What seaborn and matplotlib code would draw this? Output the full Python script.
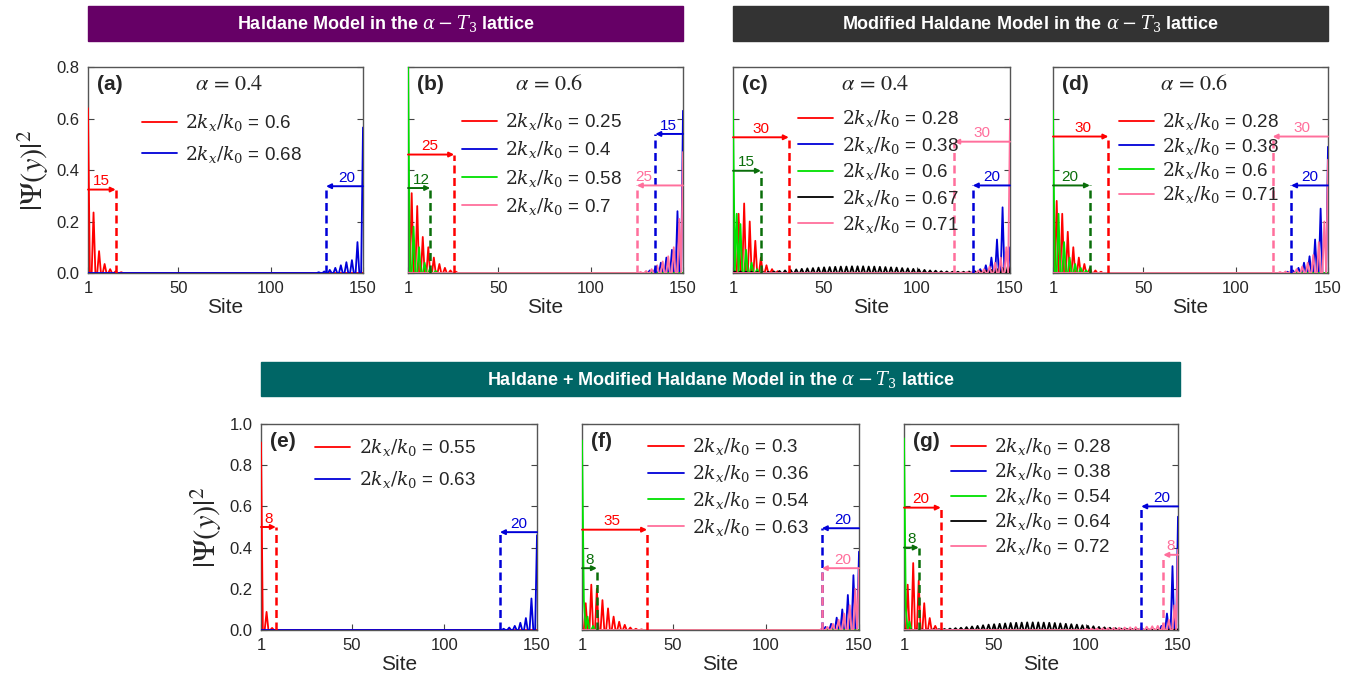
import numpy as np
import pandas as pd
import matplotlib
matplotlib.use('Agg')
import matplotlib.pyplot as plt
import seaborn as sns
from matplotlib.patches import Rectangle

sns.set_style('ticks')
plt.rcParams['font.family'] = ['Liberation Sans', 'DejaVu Sans']
plt.rcParams['mathtext.fontset'] = 'stix'

N_SITES = 150
xticks = [1, 50, 100, 150]
top_yticks = [0.0, 0.2, 0.4, 0.6, 0.8]
bot_yticks = [0.0, 0.2, 0.4, 0.6, 0.8, 1.0]

RED, BLUE, GREEN, BLACK, PINK, DKGREEN = '#ff0000', '#0000d8', '#00e000', '#000000', '#ff6f9c', '#0a6e0a'

# ---------------- panel (a) alpha = 0.4, Haldane ----------------
a_labels = ['0.6', '0.68']
a_red_sites = [1, 4, 7, 10, 13, 16, 19]
a_red_vals = [0.64, 0.235, 0.085, 0.035, 0.015, 0.007, 0.003]
a_blue_sites = [150, 147, 144, 141, 138, 135, 132, 129, 126]
a_blue_vals = [0.565, 0.12, 0.05, 0.042, 0.03, 0.02, 0.012, 0.006, 0.003]
a_arrow_from = [1, 150]
a_arrow_to = [16, 130]
a_arrow_y = [0.324, 0.337]
a_arrow_txt = ['15', '20']

# ---------------- panel (b) alpha = 0.6, Haldane ----------------
b_labels = ['0.25', '0.4', '0.58', '0.7']
b_red_sites = [3, 6, 9, 12, 15, 18, 21, 24, 27]
b_red_vals = [0.31, 0.26, 0.14, 0.10, 0.06, 0.035, 0.02, 0.01, 0.005]
b_blue_sites = [150, 147, 144, 141, 138, 135, 132]
b_blue_vals = [0.63, 0.24, 0.09, 0.06, 0.04, 0.02, 0.01]
b_green_sites = [1, 4, 7, 10, 13, 16]
b_green_vals = [0.85, 0.18, 0.10, 0.04, 0.02, 0.008]
b_pink_sites = [150, 148, 145, 142, 139, 136, 133, 130, 127]
b_pink_vals = [0.47, 0.21, 0.10, 0.065, 0.045, 0.03, 0.015, 0.008, 0.004]
b_arrow_from = [1, 1, 150, 150]
b_arrow_to = [26, 13, 135, 125]
b_arrow_y = [0.46, 0.33, 0.54, 0.34]
b_arrow_txt = ['25', '12', '15', '25']

# ---------------- panel (c) alpha = 0.4, Modified Haldane ----------------
c_labels = ['0.28', '0.38', '0.6', '0.67', '0.71']
c_red_sites = [4, 7, 10, 13, 16, 19, 22, 25]
c_red_vals = [0.23, 0.27, 0.2, 0.125, 0.06, 0.03, 0.015, 0.007]
c_blue_sites = [150, 146, 143, 140, 137, 134, 131]
c_blue_vals = [0.1, 0.255, 0.13, 0.06, 0.03, 0.015, 0.007]
c_green_sites = [1, 3, 5, 8, 11, 14]
c_green_vals = [0.63, 0.23, 0.19, 0.09, 0.04, 0.015]
c_black_sites = list(range(2, 150, 3))
c_black_vals = [0.006, 0.006, 0.005, 0.005, 0.004, 0.004, 0.005, 0.006, 0.008, 0.010,
                0.012, 0.014, 0.016, 0.018, 0.019, 0.021, 0.022, 0.023, 0.024, 0.025,
                0.025, 0.026, 0.026, 0.026, 0.025, 0.025, 0.024, 0.023, 0.022, 0.021,
                0.019, 0.018, 0.016, 0.014, 0.012, 0.010, 0.009, 0.007, 0.006, 0.005,
                0.005, 0.005, 0.006, 0.007, 0.008, 0.010, 0.012, 0.015, 0.020, 0.030]
c_pink_sites = [150, 148, 145, 142, 139, 136, 133, 130, 127, 124]
c_pink_vals = [0.6, 0.1, 0.06, 0.04, 0.025, 0.015, 0.01, 0.006, 0.004, 0.002]
c_arrow_from = [1, 1, 150, 150]
c_arrow_to = [31, 16, 120, 130]
c_arrow_y = [0.527, 0.397, 0.51, 0.34]
c_arrow_txt = ['30', '15', '30', '20']

# ---------------- panel (d) alpha = 0.6, Modified Haldane ----------------
d_labels = ['0.28', '0.38', '0.6', '0.71']
d_red_sites = [3, 6, 9, 12, 15, 18, 21, 24, 27]
d_red_vals = [0.28, 0.23, 0.16, 0.1, 0.06, 0.035, 0.02, 0.01, 0.005]
d_blue_sites = [150, 146, 143, 140, 137, 134, 131, 128]
d_blue_vals = [0.49, 0.25, 0.13, 0.065, 0.04, 0.02, 0.01, 0.005]
d_green_sites = [1, 4, 7, 10, 13, 16, 19]
d_green_vals = [0.63, 0.23, 0.12, 0.06, 0.035, 0.02, 0.01]
d_pink_sites = [150, 148, 145, 142, 139, 136, 133, 130, 127, 124]
d_pink_vals = [0.44, 0.2, 0.12, 0.07, 0.04, 0.025, 0.015, 0.01, 0.006, 0.004]
d_arrow_from = [1, 1, 150, 150]
d_arrow_to = [31, 21, 120, 130]
d_arrow_y = [0.53, 0.34, 0.53, 0.34]
d_arrow_txt = ['30', '20', '30', '20']

# ---------------- panel (e) Haldane + Modified Haldane ----------------
e_labels = ['0.55', '0.63']
e_red_sites = [1, 4, 7]
e_red_vals = [0.91, 0.088, 0.01]
e_blue_sites = [150, 147, 144, 141, 138, 135, 132]
e_blue_vals = [0.46, 0.153, 0.058, 0.035, 0.02, 0.012, 0.006]
e_arrow_from = [1, 150]
e_arrow_to = [9, 130]
e_arrow_y = [0.5, 0.475]
e_arrow_txt = ['8', '20']

# ---------------- panel (f) ----------------
f_labels = ['0.3', '0.36', '0.54', '0.63']
f_red_sites = [3, 6, 9, 12, 15, 18, 21, 24, 27, 30, 33]
f_red_vals = [0.13, 0.22, 0.2, 0.145, 0.105, 0.065, 0.04, 0.025, 0.012, 0.006, 0.003]
f_blue_sites = [150, 147, 144, 141, 138, 135, 132]
f_blue_vals = [0.38, 0.266, 0.17, 0.1, 0.06, 0.03, 0.015]
f_green_sites = [1, 2, 4, 7]
f_green_vals = [0.92, 0.145, 0.065, 0.02]
f_pink_sites = [150, 148, 145, 142, 139, 136, 133, 130]
f_pink_vals = [0.3, 0.2, 0.12, 0.08, 0.05, 0.03, 0.015, 0.008]
f_arrow_from = [1, 1, 150, 150]
f_arrow_to = [36, 9, 130, 130]
f_arrow_y = [0.487, 0.30, 0.494, 0.30]
f_arrow_txt = ['35', '8', '20', '20']

# ---------------- panel (g) ----------------
g_labels = ['0.28', '0.38', '0.54', '0.64', '0.72']
g_red_sites = [3, 6, 9, 12, 15, 18]
g_red_vals = [0.22, 0.325, 0.24, 0.13, 0.058, 0.02]
g_blue_sites = [150, 147, 144, 141]
g_blue_vals = [0.55, 0.31, 0.08, 0.02]
g_green_sites = [1, 2, 4]
g_green_vals = [0.93, 0.1, 0.04]
g_black_sites = list(range(2, 150, 3))
g_black_vals = [0.002, 0.002, 0.002, 0.002, 0.002, 0.003, 0.004, 0.005, 0.007, 0.009,
                0.011, 0.014, 0.017, 0.020, 0.023, 0.026, 0.028, 0.030, 0.032, 0.034,
                0.035, 0.036, 0.037, 0.037, 0.037, 0.036, 0.035, 0.034, 0.032, 0.030,
                0.028, 0.026, 0.023, 0.020, 0.018, 0.015, 0.013, 0.011, 0.009, 0.007,
                0.006, 0.005, 0.004, 0.003, 0.003, 0.003, 0.003, 0.004, 0.005, 0.006]
g_pink_sites = [150, 148, 145, 142, 139, 136, 133, 130, 127, 124, 121, 118, 115, 112, 109, 106, 103, 100]
g_pink_vals = [0.39, 0.12, 0.05, 0.03, 0.02, 0.018, 0.016, 0.015, 0.014, 0.013, 0.012,
               0.011, 0.01, 0.009, 0.008, 0.007, 0.006, 0.005]
g_arrow_from = [1, 1, 150, 150]
g_arrow_to = [21, 9, 130, 142]
g_arrow_y = [0.594, 0.40, 0.60, 0.365]
g_arrow_txt = ['20', '8', '20', '8']


def series(sites, vals):
    y = np.zeros(N_SITES)
    y[np.asarray(sites) - 1] = vals
    return y


W, H = 1366, 679
fig = plt.figure(figsize=(W / 100, H / 100), dpi=100)


def px_axes(x0, x1, y0, y1):
    return fig.add_axes([x0 / W, 1 - y1 / H, (x1 - x0) / W, (y1 - y0) / H])


def banner(x0, x1, y0, y1, color, text):
    fig.patches.append(Rectangle((x0 / W, 1 - y1 / H), (x1 - x0) / W, (y1 - y0) / H,
                                 transform=fig.transFigure, color=color, zorder=0))
    fig.text((x0 + x1) / 2 / W, 1 - (y0 + y1) / 2 / H, text, color='white',
             fontsize=13, fontweight='bold', ha='center', va='center',
             math_fontfamily='dejavuserif')


def draw(ax, curves, arrows, yticks, tag, alpha_txt, leg_pos, leg_space, show_y, txt_x):
    sites = np.arange(1, N_SITES + 1)
    for lab, col, s, v in curves:
        df = pd.DataFrame({'Site': sites, 'psi': series(s, v)})
        sns.lineplot(data=df, x='Site', y='psi', color=col, lw=1.3, ax=ax,
                     label=r'$2k_x/k_0$ = ' + lab, estimator=None, zorder=3)
    for (x0, x1, yv, txt, col), tx in zip(arrows, txt_x):
        ax.plot([x1, x1], [0, yv], ls=(0, (3.2, 1.8)), color=col, lw=1.8, zorder=4)
        ax.annotate('', xy=(x1, yv), xytext=(x0, yv),
                    arrowprops=dict(arrowstyle='-|>', color=col, lw=1.4,
                                    mutation_scale=7, shrinkA=0, shrinkB=0), zorder=4)
        ax.annotate(txt, (tx, yv), xytext=(0, 1), textcoords='offset points',
                    ha='center', va='bottom', color=col, fontsize=11)
    ax.set_xlim(1, 150)
    ax.set_ylim(0, yticks[-1])
    ax.set_xticks(xticks)
    ax.set_yticks(yticks)
    ax.set_xticklabels([str(t) for t in xticks])
    ax.set_yticklabels(['%.1f' % t for t in yticks] if show_y else [])
    ax.tick_params(direction='in', length=4, labelsize=12, pad=6, right=True,
                   color='#444444')
    for sp in ax.spines.values():
        sp.set_visible(True)
        sp.set_color('#555555')
        sp.set_linewidth(1.0)
    ax.set_xlabel('Site', fontsize=15, labelpad=1)
    if show_y:
        ax.set_ylabel(r'$|\Psi(y)|^2$', fontsize=22, labelpad=4)
    else:
        ax.set_ylabel('')
    ax.text(0.033, 0.915, tag, transform=ax.transAxes, fontsize=15,
            fontweight='bold', ha='left', va='center')
    if alpha_txt:
        ax.text(0.515, 0.915, alpha_txt, transform=ax.transAxes, fontsize=16,
                ha='center', va='center')
    leg = ax.legend(loc='upper left', bbox_to_anchor=leg_pos, frameon=False, fontsize=13.5,
                    borderpad=0, borderaxespad=0, handlelength=1.87, handletextpad=0.45,
                    labelspacing=leg_space)
    for t in leg.get_texts():
        t.set_math_fontfamily('dejavuserif')


def arrows_of(fr, to, yv, txt, cols):
    return list(zip(fr, to, yv, txt, cols))


# banners
banner(88, 683, 6, 41, '#660066', r'Haldane Model in the $\alpha - T_3$ lattice')
banner(733, 1328, 6, 41, '#333333', r'Modified Haldane Model in the $\alpha - T_3$ lattice')
banner(261, 1180, 362, 396, '#006666', r'Haldane + Modified Haldane Model in the $\alpha - T_3$ lattice')

# (a)
ax = px_axes(88, 363, 67, 273)
draw(ax, [(a_labels[0], RED, a_red_sites, a_red_vals),
          (a_labels[1], BLUE, a_blue_sites, a_blue_vals)],
     arrows_of(a_arrow_from, a_arrow_to, a_arrow_y, a_arrow_txt, [RED, BLUE]),
     top_yticks, '(a)', r'$\alpha\, =\, 0.4$', (0.196, 0.78), 0.57, True, [8, 141])

# (b)
ax = px_axes(408, 683, 67, 273)
draw(ax, [(b_labels[0], RED, b_red_sites, b_red_vals),
          (b_labels[1], BLUE, b_blue_sites, b_blue_vals),
          (b_labels[2], GREEN, b_green_sites, b_green_vals),
          (b_labels[3], PINK, b_pink_sites, b_pink_vals)],
     arrows_of(b_arrow_from, b_arrow_to, b_arrow_y, b_arrow_txt, [RED, DKGREEN, BLUE, PINK]),
     top_yticks, '(b)', r'$\alpha\, =\, 0.6$', (0.196, 0.785), 0.38, False, [13, 8, 142, 129])

# (c)
ax = px_axes(733, 1010, 67, 273)
draw(ax, [(c_labels[0], RED, c_red_sites, c_red_vals),
          (c_labels[1], BLUE, c_blue_sites, c_blue_vals),
          (c_labels[2], GREEN, c_green_sites, c_green_vals),
          (c_labels[3], BLACK, c_black_sites, c_black_vals),
          (c_labels[4], PINK, c_pink_sites, c_pink_vals)],
     arrows_of(c_arrow_from, c_arrow_to, c_arrow_y, c_arrow_txt, [RED, DKGREEN, PINK, BLUE]),
     top_yticks, '(c)', r'$\alpha\, =\, 0.4$', (0.235, 0.80), 0.29, False, [16, 8, 135, 140])

# (d)
ax = px_axes(1053, 1328, 67, 273)
draw(ax, [(d_labels[0], RED, d_red_sites, d_red_vals),
          (d_labels[1], BLUE, d_blue_sites, d_blue_vals),
          (d_labels[2], GREEN, d_green_sites, d_green_vals),
          (d_labels[3], PINK, d_pink_sites, d_pink_vals)],
     arrows_of(d_arrow_from, d_arrow_to, d_arrow_y, d_arrow_txt, [RED, DKGREEN, PINK, BLUE]),
     top_yticks, '(d)', r'$\alpha\, =\, 0.6$', (0.24, 0.785), 0.18, False, [17, 10, 136, 140])

# (e)
ax = px_axes(261, 537, 424, 630)
draw(ax, [(e_labels[0], RED, e_red_sites, e_red_vals),
          (e_labels[1], BLUE, e_blue_sites, e_blue_vals)],
     arrows_of(e_arrow_from, e_arrow_to, e_arrow_y, e_arrow_txt, [RED, BLUE]),
     bot_yticks, '(e)', None, (0.196, 0.935), 0.57, True, [5, 140])

# (f)
ax = px_axes(582, 859, 424, 630)
draw(ax, [(f_labels[0], RED, f_red_sites, f_red_vals),
          (f_labels[1], BLUE, f_blue_sites, f_blue_vals),
          (f_labels[2], GREEN, f_green_sites, f_green_vals),
          (f_labels[3], PINK, f_pink_sites, f_pink_vals)],
     arrows_of(f_arrow_from, f_arrow_to, f_arrow_y, f_arrow_txt, [RED, DKGREEN, BLUE, PINK]),
     bot_yticks, '(f)', None, (0.24, 0.94), 0.31, False, [17, 5, 141, 141])

# (g)
ax = px_axes(904, 1178, 424, 630)
draw(ax, [(g_labels[0], RED, g_red_sites, g_red_vals),
          (g_labels[1], BLUE, g_blue_sites, g_blue_vals),
          (g_labels[2], GREEN, g_green_sites, g_green_vals),
          (g_labels[3], BLACK, g_black_sites, g_black_vals),
          (g_labels[4], PINK, g_pink_sites, g_pink_vals)],
     arrows_of(g_arrow_from, g_arrow_to, g_arrow_y, g_arrow_txt, [RED, DKGREEN, BLUE, PINK]),
     bot_yticks, '(g)', None, (0.17, 0.94), 0.21, False, [10, 5, 141, 146])

fig.savefig('out.png', dpi=100)
